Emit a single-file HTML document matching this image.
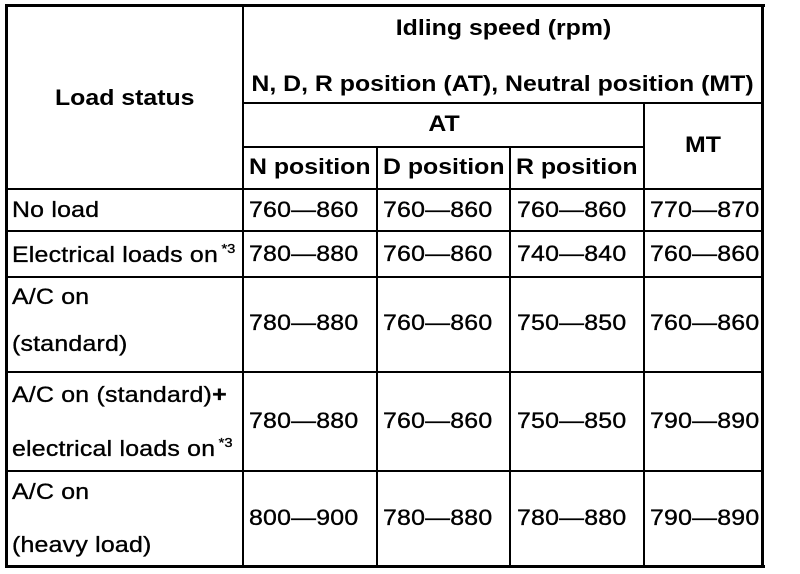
<!DOCTYPE html>
<html>
<head>
<meta charset="utf-8">
<style>
  html, body { margin:0; padding:0; background:#fff; }
  #c { position:relative; width:800px; height:574px; background:#fff; overflow:hidden; }
  .l { position:absolute; background:#000; }
  .t { position:absolute; white-space:nowrap; color:#000; line-height:1; transform:scaleX(1.13); transform-origin:left center; }
  .tc { transform-origin:center center; text-align:center; }
  .b { font-family:"Liberation Sans", Arial, sans-serif; font-weight:bold; font-size:22px; letter-spacing:0; }
  .r { font-family:"Liberation Sans", Arial, sans-serif; font-weight:normal; font-size:22px; letter-spacing:0.2px; -webkit-text-stroke:0.35px #000; }
  .d { font-family:"Liberation Sans", Arial, sans-serif; font-weight:normal; font-size:22px; letter-spacing:0.2px; -webkit-text-stroke:0.35px #000; }
  .sup { font-size:13px; letter-spacing:0; position:relative; margin-left:3px; }
</style>
</head>
<body>
<div id="c">
  <!-- outer border -->
  <div class="l" style="left:5px;top:4px;width:760px;height:3px;"></div>
  <div class="l" style="left:5px;top:565px;width:760px;height:3px;"></div>
  <div class="l" style="left:5px;top:4px;width:3px;height:564px;"></div>
  <div class="l" style="left:761px;top:4px;width:3px;height:564px;"></div>

  <!-- inner vertical lines -->
  <div class="l" style="left:242px;top:4px;width:2px;height:563px;"></div>
  <div class="l" style="left:376px;top:146px;width:2px;height:421px;"></div>
  <div class="l" style="left:509px;top:146px;width:2px;height:421px;"></div>
  <div class="l" style="left:643px;top:102px;width:2px;height:465px;"></div>

  <!-- inner horizontal lines -->
  <div class="l" style="left:242px;top:102px;width:521px;height:2px;"></div>
  <div class="l" style="left:242px;top:146px;width:402px;height:2px;"></div>
  <div class="l" style="left:5px;top:188px;width:758px;height:2px;"></div>
  <div class="l" style="left:5px;top:230px;width:758px;height:2px;"></div>
  <div class="l" style="left:5px;top:276px;width:758px;height:2px;"></div>
  <div class="l" style="left:5px;top:371px;width:758px;height:2px;"></div>
  <div class="l" style="left:5px;top:470px;width:758px;height:2px;"></div>

  <!-- header text -->
  <div class="t tc b" style="left:244px;top:17.4px;width:519px;">Idling speed (rpm)</div>
  <div class="t tc b" style="left:243px;top:73.4px;width:519px;">N, D, R position (AT), Neutral position (MT)</div>
  <div class="t b" style="left:55px;top:87.4px;">Load status</div>
  <div class="t tc b" style="left:244px;top:113.4px;width:400px;">AT</div>
  <div class="t tc b" style="left:645px;top:134.4px;width:116px;">MT</div>
  <div class="t b" style="left:249px;top:156.4px;">N position</div>
  <div class="t b" style="left:383px;top:156.4px;">D position</div>
  <div class="t b" style="left:516px;top:156.4px;">R position</div>

  <!-- row 1 -->
  <div class="t r" style="left:12px;top:199.4px;">No load</div>
  <div class="t d" style="left:249px;top:199.4px;">760—860</div>
  <div class="t d" style="left:383px;top:199.4px;">760—860</div>
  <div class="t d" style="left:517px;top:199.4px;">760—860</div>
  <div class="t d" style="left:650px;top:199.4px;">770—870</div>

  <!-- row 2 -->
  <div class="t r" style="left:12px;top:244.4px;">Electrical loads on<span class="sup" style="top:-9px;">*3</span></div>
  <div class="t d" style="left:249px;top:243.4px;">780—880</div>
  <div class="t d" style="left:383px;top:243.4px;">760—860</div>
  <div class="t d" style="left:517px;top:243.4px;">740—840</div>
  <div class="t d" style="left:650px;top:243.4px;">760—860</div>

  <!-- row 3 -->
  <div class="t r" style="left:12px;top:286.4px;">A/C on</div>
  <div class="t r" style="left:12px;top:333.4px;">(standard)</div>
  <div class="t d" style="left:249px;top:312.4px;">780—880</div>
  <div class="t d" style="left:383px;top:312.4px;">760—860</div>
  <div class="t d" style="left:517px;top:312.4px;">750—850</div>
  <div class="t d" style="left:650px;top:312.4px;">760—860</div>

  <!-- row 4 -->
  <div class="t r" style="left:12px;top:384.4px;">A/C on (standard)<b>+</b></div>
  <div class="t r" style="left:12px;top:438.4px;">electrical loads on<span class="sup" style="top:-9px;">*3</span></div>
  <div class="t d" style="left:249px;top:410.4px;">780—880</div>
  <div class="t d" style="left:383px;top:410.4px;">760—860</div>
  <div class="t d" style="left:517px;top:410.4px;">750—850</div>
  <div class="t d" style="left:650px;top:410.4px;">790—890</div>

  <!-- row 5 -->
  <div class="t r" style="left:12px;top:481.4px;">A/C on</div>
  <div class="t r" style="left:12px;top:534.4px;">(heavy load)</div>
  <div class="t d" style="left:249px;top:507.4px;">800—900</div>
  <div class="t d" style="left:383px;top:507.4px;">780—880</div>
  <div class="t d" style="left:517px;top:507.4px;">780—880</div>
  <div class="t d" style="left:650px;top:507.4px;">790—890</div>
</div>
</body>
</html>
